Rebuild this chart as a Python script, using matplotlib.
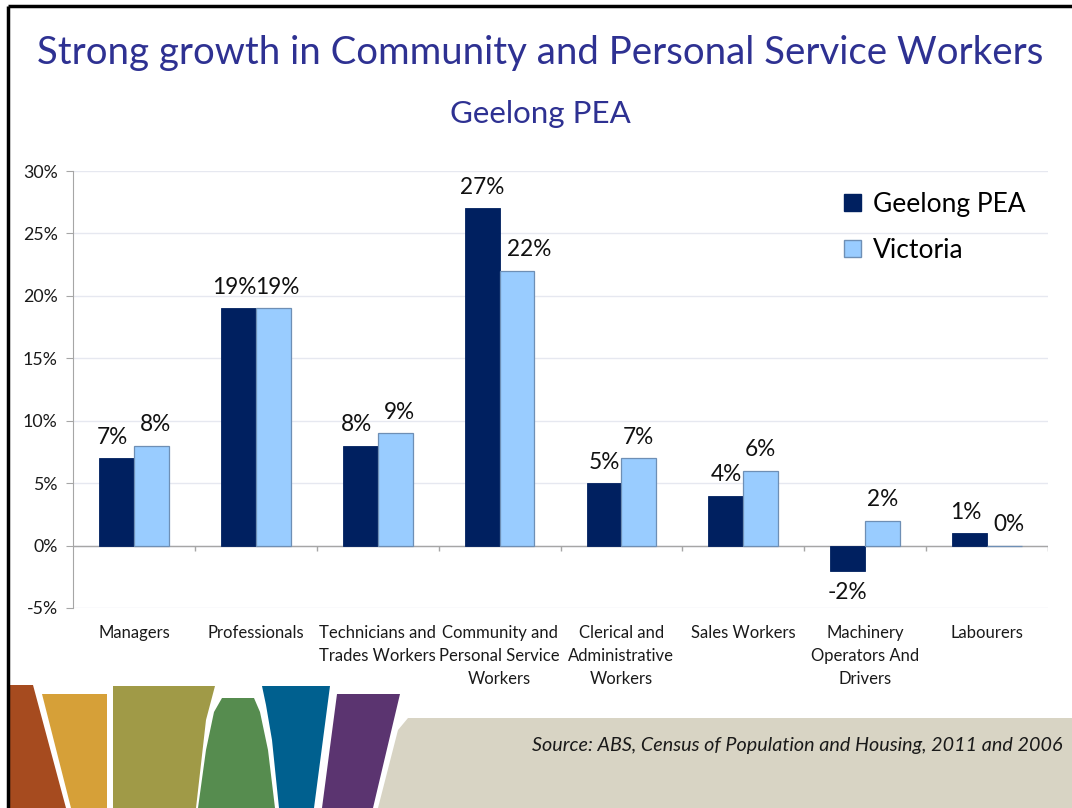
import matplotlib
matplotlib.use("Agg")
import matplotlib.pyplot as plt
import numpy as np
from matplotlib.patches import Polygon, Patch
from matplotlib.ticker import FuncFormatter

plt.rcParams['font.family'] = ['Lato', 'DejaVu Sans']

categories = ["Managers", "Professionals", "Technicians and\nTrades Workers",
              "Community and\nPersonal Service\nWorkers", "Clerical and\nAdministrative\nWorkers",
              "Sales Workers", "Machinery\nOperators And\nDrivers", "Labourers"]
geelong = [7, 19, 8, 27, 5, 4, -2, 1]
victoria = [8, 19, 9, 22, 7, 6, 2, 0]
series_names = ["Geelong PEA", "Victoria"]
yticks = [-5, 0, 5, 10, 15, 20, 25, 30]

W, H = 1072, 808
fig = plt.figure(figsize=(W / 100, H / 100), dpi=100)
fig.patch.set_facecolor("white")

# background / decoration axes in pixel coordinates
bg = fig.add_axes([0, 0, 1, 1], zorder=0)
bg.set_xlim(0, W)
bg.set_ylim(H, 0)
bg.axis("off")

shapes = [
    ("#A64B1F", [(10, 685), (33, 685), (66, 808), (10, 808)]),
    ("#D6A038", [(42, 694), (107, 694), (107, 808), (71, 808)]),
    ("#A09A47", [(113, 686), (215, 686), (206, 720), (196, 808), (113, 808)]),
    ("#568C4F", [(222, 698), (254, 698), (260, 712), (268, 750), (275, 808), (198, 808), (206, 750), (214, 712)]),
    ("#00608F", [(262, 686), (330, 686), (314, 808), (279, 808), (272, 740), (266, 705)]),
    ("#5B3470", [(337, 694), (400, 694), (373, 808), (322, 808)]),
    ("#D8D4C4", [(408, 718), (W, 718), (W, H), (378, H), (398, 730)]),
]
for col, pts in shapes:
    bg.add_patch(Polygon(pts, closed=True, facecolor=col, edgecolor="none"))

# slide border
bg.plot([8, 8], [6, H], color="black", lw=2.5, solid_capstyle="butt")
bg.plot([8, W], [6, 6], color="black", lw=2.5, solid_capstyle="butt")

title_col = "#2E3192"
fig.text(540 / W, 1 - 64 / H, "Strong growth in Community and Personal Service Workers",
         ha="center", va="baseline", fontsize=27.6, color=title_col)
fig.text(540 / W, 1 - 123 / H, "Geelong PEA", ha="center", va="baseline",
         fontsize=22.5, color=title_col)
fig.text(1062 / W, 1 - 751 / H, "Source: ABS, Census of Population and Housing, 2011 and 2006",
         ha="right", va="baseline", fontsize=14.2, style="italic", color="#1a1a1a")

# chart axes
left, right, top, bottom = 73, 1048, 171, 608
ax = fig.add_axes([left / W, 1 - bottom / H, (right - left) / W, (bottom - top) / H], zorder=2)
ax.set_facecolor("none")

x = np.arange(len(categories))
bw = 1 / 3.5
dark = "#002060"
light = "#99CCFF"
b1 = ax.bar(x - bw / 2, geelong, bw, color=dark, edgecolor=dark, lw=0.6, zorder=3)
b2 = ax.bar(x + bw / 2, victoria, bw, color=light, edgecolor="#6E8FB5", lw=0.9, zorder=3)

for side, bars, vals, others in ((-1, b1, geelong, victoria), (1, b2, victoria, geelong)):
    for rect, v, o in zip(bars, vals, others):
        cx = rect.get_x() + rect.get_width() / 2
        dx = 0
        # nudge apart labels of equal-height neighbours so they don't collide
        if abs(v - o) < 1.5:
            dx = 3 * side
        # push label away from a taller neighbouring bar
        elif side == 1 and o > v + 2:
            dx = 9
        if v >= 0:
            ax.annotate(f"{v}%", (cx, v), xytext=(dx, 7.5), textcoords="offset points",
                        ha="center", va="bottom", fontsize=16.3, color="#111111")
        else:
            ax.annotate(f"{v}%", (cx, v), xytext=(dx, -8), textcoords="offset points",
                        ha="center", va="top", fontsize=16.3, color="#111111")

ax.set_xlim(-0.5, len(categories) - 0.5)
ax.set_ylim(-5, 30)
ax.set_yticks(yticks)
ax.yaxis.set_major_formatter(FuncFormatter(lambda v, p: f"{int(v)}%"))
ax.grid(axis="y", color="#E6E8F0", lw=1, zorder=0)
ax.set_axisbelow(True)

for s in ("top", "right", "bottom"):
    ax.spines[s].set_visible(False)
ax.spines["left"].set_color("#A6A6A6")
ax.tick_params(axis="y", colors="#A6A6A6", length=5, labelcolor="#1a1a1a", labelsize=12.8, pad=6)

ax.axhline(0, color="#A6A6A6", lw=1, zorder=2)
bounds = np.arange(len(categories)) + 0.5
ax.vlines(bounds, -0.45, 0, color="#A6A6A6", lw=1, zorder=2)

ax.set_xticks(x)
ax.set_xticklabels(categories, fontsize=12, color="#1a1a1a", linespacing=1.55)
ax.tick_params(axis="x", length=0, pad=12)

handles = [Patch(facecolor=dark, edgecolor=dark), Patch(facecolor=light, edgecolor="#6E8FB5")]
ax.legend(handles, series_names, loc="upper left", bbox_to_anchor=(820 / W, 1 - 168 / H),
          bbox_transform=fig.transFigure, frameon=False, fontsize=19,
          handlelength=0.65, handleheight=0.65, handletextpad=0.45, labelspacing=0.8)

fig.savefig("out.png", dpi=100, facecolor="white")
